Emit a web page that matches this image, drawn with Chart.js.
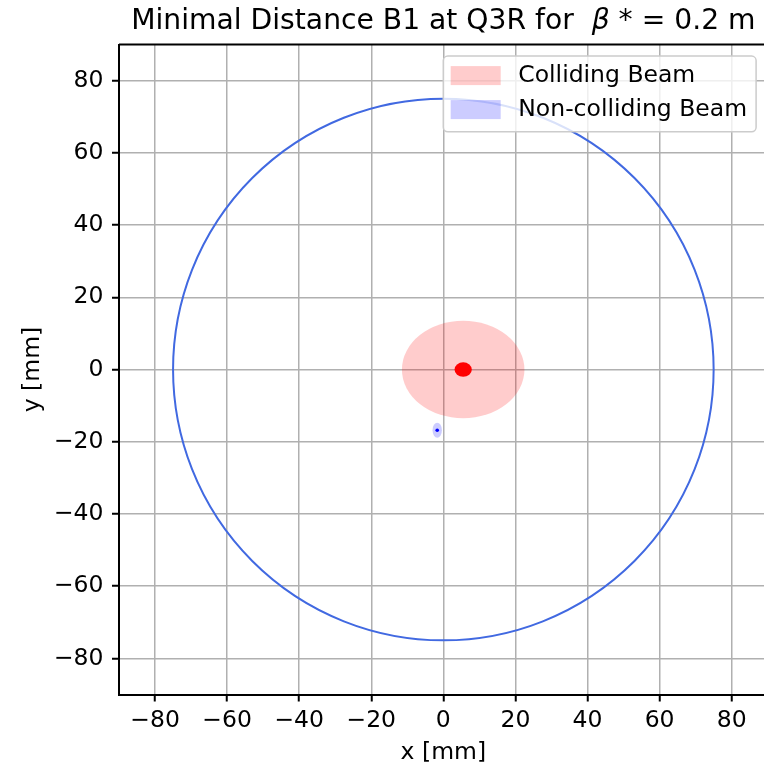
<!DOCTYPE html>
<html><head><meta charset="utf-8">
<script src="https://cdn.jsdelivr.net/npm/chart.js@4/dist/chart.umd.min.js"></script>
<style>
html,body{margin:0;padding:0;overflow:hidden;background:#fff;width:764px;height:767px}
#wrap{position:absolute;left:0;top:0;width:800px;height:767px}
</style></head>
<body><div id="wrap"><canvas id="c" width="800" height="767"></canvas></div>
<script>
// ---- data ----
const titleParts = ['Minimal Distance B1 at Q3R for  ', '\u03B2', ' * = 0.2 m'];
const xAxisLabel = 'x [mm]';
const yAxisLabel = 'y [mm]';
const beamLabels = ['Colliding Beam', 'Non-colliding Beam'];
const beamCentreX = [5.5, -1.7];
const beamCentreY = [0.0, -16.8];
const envelopeHalfX = [17.0, 1.3];
const envelopeHalfY = [13.5, 2.1];
const coreHalfX = [2.4, 0.5];
const coreHalfY = [2.0, 0.5];
const apertureCentreX = [0];
const apertureCentreY = [0];
const apertureRadius = [75];
const xTickValues = [-80, -60, -40, -20, 0, 20, 40, 60, 80];
const xTickLabels = ['\u221280', '\u221260', '\u221240', '\u221220', '0', '20', '40', '60', '80'];
const yTickValues = [-80, -60, -40, -20, 0, 20, 40, 60, 80];
const yTickLabels = ['\u221280', '\u221260', '\u221240', '\u221220', '0', '20', '40', '60', '80'];
const axisRange = [-90, 90];

// ---- styles ----
const FONT = 'DejaVu Sans';
const FS = 23.5;
const envelopeColors = ['rgba(255,0,0,0.2)', 'rgba(0,0,255,0.2)'];
const coreColors = ['#ff0000', '#0000ff'];
const apertureColor = '#4169e1';

const beamDatasets = beamLabels.map((lab, i) => ({
  label: lab,
  data: [{x: beamCentreX[i], y: beamCentreY[i]}],
  pointRadius: 0,
  envelope: [envelopeHalfX[i], envelopeHalfY[i]],
  core: [coreHalfX[i], coreHalfY[i]],
  envColor: envelopeColors[i],
  coreColor: coreColors[i]
}));
const apertureDataset = {
  label: 'aperture',
  data: [{x: apertureCentreX[0], y: apertureCentreY[0]}],
  pointRadius: 0,
  radius: apertureRadius[0]
};

function ellipsePath(ctx, xs, ys, cx, cy, ax, ay) {
  const px = xs.getPixelForValue(cx), py = ys.getPixelForValue(cy);
  const rx = Math.abs(xs.getPixelForValue(cx + ax) - px);
  const ry = Math.abs(ys.getPixelForValue(cy + ay) - py);
  ctx.beginPath();
  ctx.ellipse(px, py, rx, ry, 0, 0, Math.PI * 2);
}

const shapesPlugin = {
  id: 'shapes',
  beforeDatasetsDraw(chart) {
    const {ctx, chartArea: ca} = chart;
    const xs = chart.scales.x, ys = chart.scales.y;
    ctx.save();
    ctx.beginPath(); ctx.rect(ca.left, ca.top, ca.right - ca.left, ca.bottom - ca.top); ctx.clip();
    chart.data.datasets.forEach(ds => {
      const p = ds.data[0];
      if (ds.envelope) {
        ellipsePath(ctx, xs, ys, p.x, p.y, ds.envelope[0], ds.envelope[1]);
        ctx.fillStyle = ds.envColor; ctx.fill();
      }
    });
    chart.data.datasets.forEach(ds => {
      const p = ds.data[0];
      if (ds.core) {
        ellipsePath(ctx, xs, ys, p.x, p.y, ds.core[0], ds.core[1]);
        ctx.fillStyle = ds.coreColor; ctx.fill();
      }
    });
    chart.data.datasets.forEach(ds => {
      const p = ds.data[0];
      if (ds.radius) {
        ellipsePath(ctx, xs, ys, p.x, p.y, ds.radius, ds.radius);
        ctx.strokeStyle = apertureColor; ctx.lineWidth = 2; ctx.stroke();
      }
    });
    ctx.restore();
  },
  afterDraw(chart) {
    const {ctx, chartArea: ca} = chart;
    ctx.save();
    // top & right spines
    ctx.strokeStyle = '#000'; ctx.lineWidth = 2;
    ctx.beginPath();
    ctx.moveTo(ca.left, ca.top); ctx.lineTo(ca.right, ca.top); ctx.lineTo(ca.right, ca.bottom);
    ctx.stroke();
    // title (mixed upright / italic beta), centred over the plot area
    const tfN = 'normal 28.2px "' + FONT + '"';
    const tfI = 'italic 28.2px "' + FONT + '"';
    const fonts = [tfN, tfI, tfN];
    let tot = 0;
    const widths = titleParts.map((t, i) => { ctx.font = fonts[i]; const w = ctx.measureText(t).width; tot += w; return w; });
    let tx = (ca.left + ca.right) / 2 - tot / 2;
    ctx.fillStyle = '#000'; ctx.textBaseline = 'alphabetic'; ctx.textAlign = 'left';
    titleParts.forEach((t, i) => { ctx.font = fonts[i]; ctx.fillText(t, tx, 29); tx += widths[i]; });
    // legend
    ctx.font = FS + 'px "' + FONT + '"';
    const tw = Math.max(...beamLabels.map(l => ctx.measureText(l).width));
    const padL = 7.4, hw = 50, hp = 17.6, padR = 9;
    const w = padL + hw + hp + tw + padR;
    const right = ca.right - 11.6, top = ca.top + 11.5;
    const left = right - w, h = 75.7;
    const r = 4.5;
    ctx.beginPath();
    ctx.moveTo(left + r, top);
    ctx.lineTo(right - r, top); ctx.arcTo(right, top, right, top + r, r);
    ctx.lineTo(right, top + h - r); ctx.arcTo(right, top + h, right - r, top + h, r);
    ctx.lineTo(left + r, top + h); ctx.arcTo(left, top + h, left, top + h - r, r);
    ctx.lineTo(left, top + r); ctx.arcTo(left, top, left + r, top, r);
    ctx.closePath();
    ctx.fillStyle = 'rgba(255,255,255,0.8)'; ctx.fill();
    ctx.strokeStyle = '#cccccc'; ctx.lineWidth = 1.5; ctx.stroke();
    beamLabels.forEach((lab, i) => {
      const pt = top + 10 + i * 34;
      ctx.fillStyle = envelopeColors[i];
      ctx.fillRect(left + padL, pt, hw, 19);
      ctx.fillStyle = '#000';
      ctx.textBaseline = 'middle'; ctx.textAlign = 'left';
      ctx.fillText(lab, left + padL + hw + hp, pt + 9.5);
    });
    ctx.restore();
  }
};

const tickFont = {family: FONT, size: FS};
new Chart(document.getElementById('c'), {
  type: 'scatter',
  data: {datasets: [...beamDatasets, apertureDataset]},
  options: {
    responsive: false, animation: false, devicePixelRatio: 1,
    layout: {padding: {left: 0, right: 32.3, top: 44.6, bottom: 0}},
    plugins: {
      legend: {display: false},
      tooltip: {enabled: false},
      title: {display: false}
    },
    scales: {
      x: {type: 'linear', min: axisRange[0], max: axisRange[1],
        afterBuildTicks: s => { s.ticks = xTickValues.map(v => ({value: v})); },
        afterFit: s => { s.height = 72.5; },
        ticks: {callback: (v, i) => xTickLabels[i], font: tickFont, color: '#000', padding: 5.5, maxRotation: 0, autoSkip: false},
        grid: {color: '#b0b0b0', lineWidth: 1.5, tickLength: 7, tickColor: '#000', tickWidth: 2},
        border: {color: '#000', width: 2},
        title: {display: true, text: xAxisLabel, color: '#000', font: tickFont, padding: {top: 0, bottom: 0}}
      },
      y: {type: 'linear', min: axisRange[0], max: axisRange[1],
        afterBuildTicks: s => { s.ticks = yTickValues.map(v => ({value: v})); },
        afterFit: s => { s.width = 119; },
        ticks: {callback: (v, i) => yTickLabels[i], font: tickFont, color: '#000', padding: 8.5, autoSkip: false},
        grid: {color: '#b0b0b0', lineWidth: 1.5, tickLength: 7, tickColor: '#000', tickWidth: 2},
        border: {color: '#000', width: 2},
        title: {display: true, text: yAxisLabel, color: '#000', font: tickFont, padding: {top: 19, bottom: 0}}
      }
    }
  },
  plugins: [shapesPlugin]
});
</script>
</body></html>
